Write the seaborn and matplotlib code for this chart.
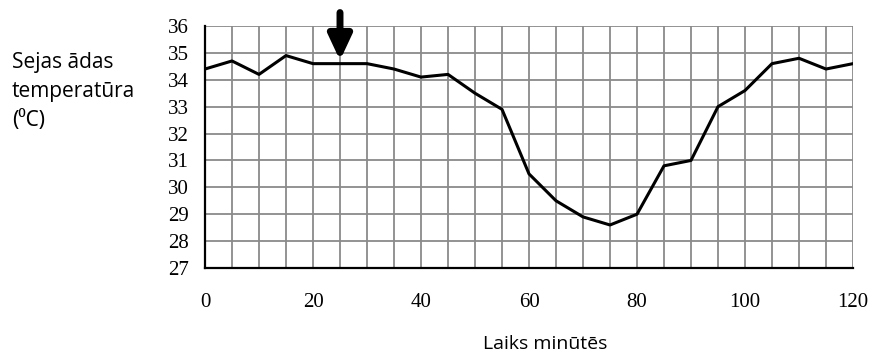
import matplotlib
matplotlib.use("Agg")
import matplotlib.pyplot as plt
import seaborn as sns
import pandas as pd

minutes = [0, 5, 10, 15, 20, 25, 30, 35, 40, 45, 50, 55, 60,
           65, 70, 75, 80, 85, 90, 95, 100, 105, 110, 115, 120]
temperature = [34.4, 34.7, 34.2, 34.9, 34.6, 34.6, 34.6, 34.4, 34.1, 34.2, 33.5, 32.9, 30.5,
               29.5, 28.9, 28.6, 29.0, 30.8, 31.0, 33.0, 33.6, 34.6, 34.8, 34.4, 34.6]
x_tick_labels = [0, 20, 40, 60, 80, 100, 120]
y_tick_labels = list(range(27, 37))
marker_time = 25

sns.set_style("white")
plt.rcParams["text.color"] = "black"
df = pd.DataFrame({"t": minutes, "temp": temperature})

fig = plt.figure(figsize=(8.73, 3.54), dpi=100)
ax = fig.add_axes([205 / 873, 1 - 268 / 354, (853 - 205) / 873, (268 - 26) / 354])

grid_color = "#8a8a8a"
for t in range(5, 121, 5):
    ax.axvline(t, color=grid_color, lw=1.3, zorder=1)
for v in range(28, 37):
    ax.axhline(v, color=grid_color, lw=1.3, zorder=1)

sns.lineplot(data=df, x="t", y="temp", color="black", lw=2.2, ax=ax, zorder=3)

ax.set_xlim(0, 120)
ax.set_ylim(27, 36)
ax.set_xticks(range(0, 121, 5))
ax.set_xticklabels([str(t) if t in x_tick_labels else "" for t in range(0, 121, 5)])
ax.set_yticks(y_tick_labels)
ax.set_yticklabels([str(v) for v in y_tick_labels])
for sp in ["top", "right"]:
    ax.spines[sp].set_visible(False)
for sp in ["left", "bottom"]:
    ax.spines[sp].set_color("black")
    ax.spines[sp].set_linewidth(1.6)
ax.tick_params(axis="x", direction="out", length=5, width=1.5, color="black",
               pad=13, labelsize=15, labelcolor="black")
ax.tick_params(axis="y", direction="out", length=3.6, width=1.5, color="black",
               pad=8, labelsize=15, labelcolor="black")
for lab in ax.get_xticklabels() + ax.get_yticklabels():
    lab.set_family("Liberation Serif")
ax.set_xlabel("")
ax.set_ylabel("")

# arrow marking the moment of exposure
ax.annotate("", xy=(marker_time, 34.72), xytext=(marker_time, 36.5),
            arrowprops=dict(arrowstyle="-|>,head_width=0.7,head_length=1.5",
                            color="black", lw=5, shrinkA=0, shrinkB=0),
            annotation_clip=False, zorder=5)

label_font = ["Open Sans", "DejaVu Sans"]
fig.text(12 / 873, 1 - 68 / 354, "Sejas ādas", family=label_font,
         fontsize=15, va="baseline", ha="left")
fig.text(12 / 873, 1 - 97 / 354, "temperatūra", family=label_font,
         fontsize=15, va="baseline", ha="left")
fig.text(12 / 873, 1 - 126 / 354, "(⁰C)", family=["Noto Sans", "DejaVu Sans"],
         fontsize=15, va="baseline", ha="left")
fig.text(545 / 873, 1 - 349 / 354, "Laiks minūtēs", family=label_font,
         fontsize=14, va="baseline", ha="center")

fig.savefig("out.png", dpi=100)
